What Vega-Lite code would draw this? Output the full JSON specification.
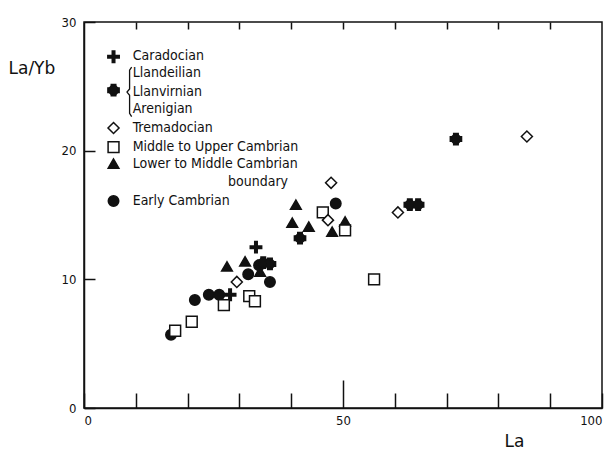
{
  "$schema": "https://vega.github.io/schema/vega-lite/v6.json",
  "width": 518,
  "height": 386,
  "autosize": {"type": "none"},
  "padding": {"left": 84, "top": 22, "right": 12, "bottom": 44},
  "background": "white",
  "config": {
    "view": {"stroke": "#111", "strokeWidth": 1.5},
    "font": "DejaVu Sans Condensed",
    "axis": {
      "grid": false,
      "domainColor": "#111",
      "domainWidth": 1.5,
      "tickColor": "#111",
      "tickWidth": 1.5,
      "labelColor": "#111",
      "labelFont": "DejaVu Sans Condensed",
      "labelFontSize": 13,
      "titleFont": "DejaVu Sans",
      "titleColor": "#111",
      "titleFontWeight": "normal"
    }
  },
  "datasets": {
    "points": [
      {"La": 16.8, "LaYb": 5.7, "period": "Early Cambrian"},
      {"La": 21.4, "LaYb": 8.4, "period": "Early Cambrian"},
      {"La": 24.1, "LaYb": 8.8, "period": "Early Cambrian"},
      {"La": 26.1, "LaYb": 8.8, "period": "Early Cambrian"},
      {"La": 31.7, "LaYb": 10.4, "period": "Early Cambrian"},
      {"La": 33.8, "LaYb": 11.1, "period": "Early Cambrian"},
      {"La": 35.9, "LaYb": 9.8, "period": "Early Cambrian"},
      {"La": 48.6, "LaYb": 15.9, "period": "Early Cambrian"},
      {"La": 27.6, "LaYb": 11.0, "period": "Lower to Middle Cambrian boundary"},
      {"La": 31.1, "LaYb": 11.4, "period": "Lower to Middle Cambrian boundary"},
      {"La": 34.0, "LaYb": 10.6, "period": "Lower to Middle Cambrian boundary"},
      {"La": 40.9, "LaYb": 15.8, "period": "Lower to Middle Cambrian boundary"},
      {"La": 40.2, "LaYb": 14.4, "period": "Lower to Middle Cambrian boundary"},
      {"La": 43.4, "LaYb": 14.1, "period": "Lower to Middle Cambrian boundary"},
      {"La": 47.9, "LaYb": 13.7, "period": "Lower to Middle Cambrian boundary"},
      {"La": 50.4, "LaYb": 14.5, "period": "Lower to Middle Cambrian boundary"},
      {"La": 34.6, "LaYb": 11.3, "period": "Llandeilian-Arenigian"},
      {"La": 35.9, "LaYb": 11.2, "period": "Llandeilian-Arenigian"},
      {"La": 41.7, "LaYb": 13.2, "period": "Llandeilian-Arenigian"},
      {"La": 62.9, "LaYb": 15.8, "period": "Llandeilian-Arenigian"},
      {"La": 64.5, "LaYb": 15.8, "period": "Llandeilian-Arenigian"},
      {"La": 71.8, "LaYb": 20.9, "period": "Llandeilian-Arenigian"},
      {"La": 33.2, "LaYb": 12.5, "period": "Caradocian"},
      {"La": 28.2, "LaYb": 8.8, "period": "Caradocian"},
      {"La": 17.6, "LaYb": 6.0, "period": "Middle to Upper Cambrian"},
      {"La": 20.8, "LaYb": 6.7, "period": "Middle to Upper Cambrian"},
      {"La": 27.0, "LaYb": 8.0, "period": "Middle to Upper Cambrian"},
      {"La": 31.9, "LaYb": 8.7, "period": "Middle to Upper Cambrian"},
      {"La": 33.0, "LaYb": 8.3, "period": "Middle to Upper Cambrian"},
      {"La": 46.1, "LaYb": 15.2, "period": "Middle to Upper Cambrian"},
      {"La": 50.4, "LaYb": 13.8, "period": "Middle to Upper Cambrian"},
      {"La": 56.0, "LaYb": 10.0, "period": "Middle to Upper Cambrian"},
      {"La": 29.5, "LaYb": 9.8, "period": "Tremadocian"},
      {"La": 47.7, "LaYb": 17.5, "period": "Tremadocian"},
      {"La": 47.1, "LaYb": 14.6, "period": "Tremadocian"},
      {"La": 60.6, "LaYb": 15.2, "period": "Tremadocian"},
      {"La": 85.5, "LaYb": 21.1, "period": "Tremadocian"}
    ],
    "legendSymbols": [
      {"La": 5.7, "LaYb": 27.3, "period": "Caradocian"},
      {"La": 5.7, "LaYb": 24.7, "period": "Llandeilian-Arenigian"},
      {"La": 5.7, "LaYb": 21.76, "period": "Tremadocian"},
      {"La": 5.7, "LaYb": 20.28, "period": "Middle to Upper Cambrian"},
      {"La": 5.7, "LaYb": 19.0, "period": "Lower to Middle Cambrian boundary"},
      {"La": 5.7, "LaYb": 16.08, "period": "Early Cambrian"}
    ],
    "legendText": [
      {"La": 9.4, "LaYb": 27.35, "label": "Caradocian"},
      {"La": 9.4, "LaYb": 26.03, "label": "Llandeilian"},
      {"La": 9.4, "LaYb": 24.55, "label": "Llanvirnian"},
      {"La": 9.4, "LaYb": 23.23, "label": "Arenigian"},
      {"La": 9.4, "LaYb": 21.76, "label": "Tremadocian"},
      {"La": 9.4, "LaYb": 20.28, "label": "Middle to Upper Cambrian"},
      {"La": 9.4, "LaYb": 18.96, "label": "Lower to Middle Cambrian"},
      {"La": 27.8, "LaYb": 17.56, "label": "boundary"},
      {"La": 9.4, "LaYb": 16.08, "label": "Early Cambrian"}
    ],
    "brace": [
      {"La": 9.2, "LaYb": 26.5, "k": 1},
      {"La": 8.8, "LaYb": 26.25, "k": 2},
      {"La": 8.8, "LaYb": 24.8, "k": 3},
      {"La": 8.3, "LaYb": 24.55, "k": 4},
      {"La": 8.8, "LaYb": 24.3, "k": 5},
      {"La": 8.8, "LaYb": 22.9, "k": 6},
      {"La": 9.2, "LaYb": 22.65, "k": 7}
    ]
  },
  "layer": [
    {
      "data": {"name": "points"},
      "mark": {"type": "point", "filled": false, "stroke": "#111", "strokeWidth": 1.5, "opacity": 1},
      "encoding": {
        "x": {
          "field": "La", "type": "quantitative",
          "scale": {"domain": [0, 100], "nice": false},
          "axis": {
            "orient": "bottom",
            "values": [0, 10, 20, 30, 40, 50, 60, 70, 80, 90, 100],
            "labelExpr": "datum.value % 50 === 0 ? datum.label : ''",
            "tickSize": {"condition": {"test": "datum.value === 50", "value": -28}, "value": -15},
            "labelPadding": {"condition": {"test": "datum.value === 50", "value": 34}, "value": 21},
            "title": "La",
            "titleFontSize": 17,
            "titleX": 430,
            "titleY": 38,
            "titleAlign": "center",
            "titleBaseline": "alphabetic"
          }
        },
        "y": {
          "field": "LaYb", "type": "quantitative",
          "scale": {"domain": [0, 30], "nice": false},
          "axis": {
            "values": [0, 10, 20, 30],
            "tickSize": -11,
            "labelPadding": 19,
            "title": "La/Yb",
            "titleAngle": 0,
            "titleFontSize": 17,
            "titleX": -76,
            "titleY": 46,
            "titleAlign": "left",
            "titleBaseline": "middle"
          }
        },
        "shape": {
          "field": "period", "type": "nominal", "legend": null,
          "scale": {
            "domain": ["Caradocian", "Llandeilian-Arenigian", "Tremadocian", "Middle to Upper Cambrian", "Lower to Middle Cambrian boundary", "Early Cambrian"],
            "range": ["M-1,-0.22L-0.22,-0.22L-0.22,-1L0.22,-1L0.22,-0.22L1,-0.22L1,0.22L0.22,0.22L0.22,1L-0.22,1L-0.22,0.22L-1,0.22Z", "cross", "diamond", "square", "triangle-up", "circle"]
          }
        },
        "fill": {
          "field": "period", "type": "nominal", "legend": null,
          "scale": {
            "domain": ["Caradocian", "Llandeilian-Arenigian", "Tremadocian", "Middle to Upper Cambrian", "Lower to Middle Cambrian boundary", "Early Cambrian"],
            "range": ["#111", "#111", "white", "white", "#111", "#111"]
          }
        },
        "size": {
          "field": "period", "type": "nominal", "legend": null,
          "scale": {
            "domain": ["Caradocian", "Llandeilian-Arenigian", "Tremadocian", "Middle to Upper Cambrian", "Lower to Middle Cambrian boundary", "Early Cambrian"],
            "range": [130, 110, 150, 110, 150, 120]
          }
        }
      }
    },
    {
      "data": {"name": "points"},
      "transform": [{"filter": "datum.period === 'Llandeilian-Arenigian'"}],
      "mark": {"type": "point", "shape": "cross", "filled": true, "color": "#111", "angle": 45, "size": 110, "opacity": 1},
      "encoding": {
        "x": {"field": "La", "type": "quantitative", "axis": null},
        "y": {"field": "LaYb", "type": "quantitative"}
      }
    },
    {
      "data": {"name": "legendSymbols"},
      "mark": {"type": "point", "filled": false, "stroke": "#111", "strokeWidth": 1.5, "opacity": 1},
      "encoding": {
        "x": {"field": "La", "type": "quantitative", "axis": null},
        "y": {"field": "LaYb", "type": "quantitative"},
        "shape": {"field": "period", "type": "nominal", "legend": null},
        "fill": {"field": "period", "type": "nominal", "legend": null},
        "size": {"field": "period", "type": "nominal", "legend": null}
      }
    },
    {
      "data": {"name": "legendSymbols"},
      "transform": [{"filter": "datum.period === 'Llandeilian-Arenigian'"}],
      "mark": {"type": "point", "shape": "cross", "filled": true, "color": "#111", "angle": 45, "size": 110, "opacity": 1},
      "encoding": {
        "x": {"field": "La", "type": "quantitative", "axis": null},
        "y": {"field": "LaYb", "type": "quantitative"}
      }
    },
    {
      "data": {"name": "legendText"},
      "mark": {"type": "text", "align": "left", "baseline": "middle", "fontSize": 14, "font": "DejaVu Sans Condensed", "color": "#111"},
      "encoding": {
        "x": {
          "field": "La", "type": "quantitative",
          "axis": {"orient": "top", "values": [10, 20, 30, 40, 50, 60, 70, 80, 90], "labels": false, "domain": false, "tickSize": -7, "title": null}
        },
        "y": {"field": "LaYb", "type": "quantitative"},
        "text": {"field": "label"}
      }
    },
    {
      "data": {"name": "brace"},
      "mark": {"type": "line", "color": "#111", "strokeWidth": 1.3},
      "encoding": {
        "x": {"field": "La", "type": "quantitative", "axis": null},
        "y": {"field": "LaYb", "type": "quantitative"},
        "order": {"field": "k"}
      }
    }
  ],
  "resolve": {"axis": {"x": "independent"}}
}
